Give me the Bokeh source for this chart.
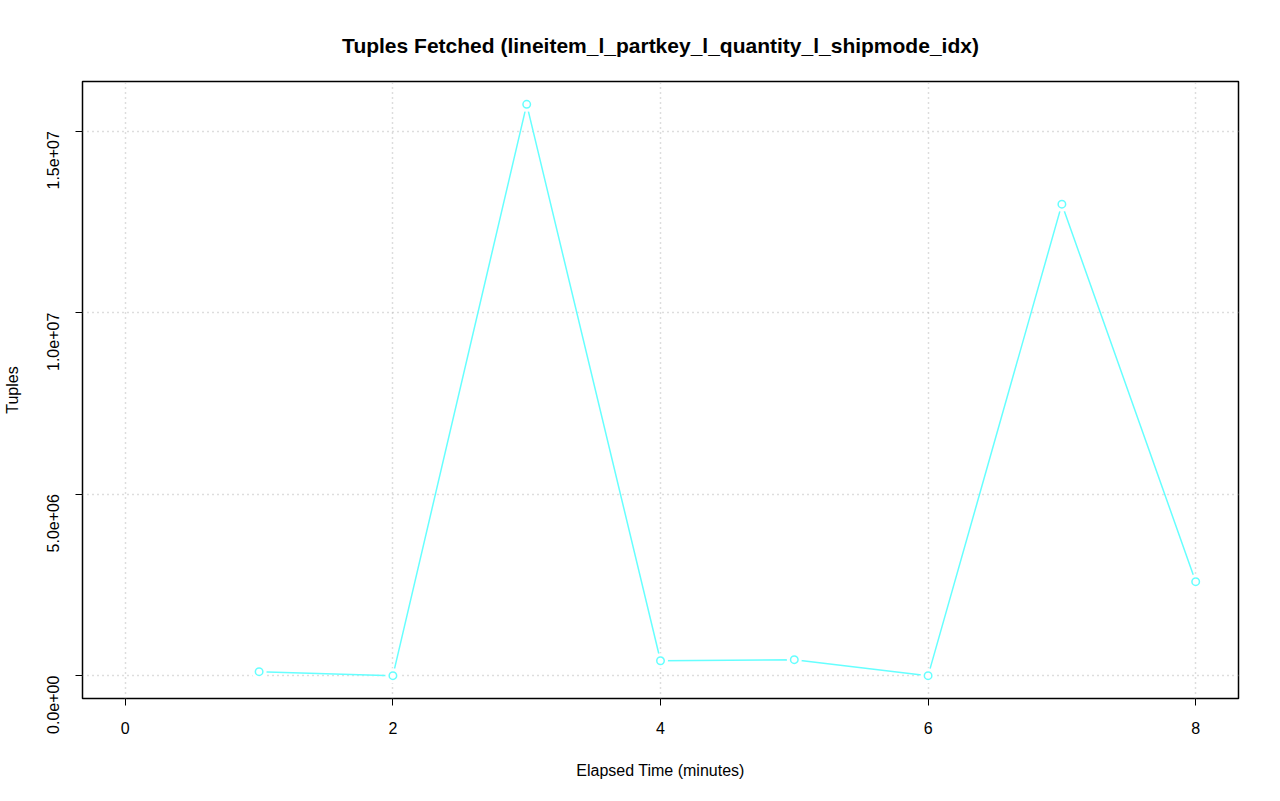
from bokeh.plotting import figure
from bokeh.models import Range1d, FixedTicker, ColumnDataSource
from bokeh.embed import file_html
from bokeh.resources import INLINE
import math

# data
minutes = [1, 2, 3, 4, 5, 6, 7, 8]
tuples = [110000, 0, 15740000, 410000, 440000, 0, 12990000, 2590000]
x_ticks = [0, 2, 4, 6, 8]
y_ticks = [0, 5e6, 1e7, 1.5e7]
y_tick_labels = ["0.0e+00", "5.0e+06", "1.0e+07", "1.5e+07"]
title_text = "Tuples Fetched (lineitem_l_partkey_l_quantity_l_shipmode_idx)"
x_label = "Elapsed Time (minutes)"
y_label = "Tuples"

FONT = "Liberation Sans"
LINE_COLOR = "#66FFFF"

ymax = max(tuples)
ypad = 0.04 * ymax
p = figure(width=1280, height=801, output_backend="svg", toolbar_location=None,
           x_range=Range1d(-0.32, 8.32), y_range=Range1d(-ypad, ymax + ypad),
           min_border_left=81, min_border_right=42, min_border_top=81, min_border_bottom=103,
           background_fill_color="white", border_fill_color="white")
p.outline_line_color = "black"
p.outline_line_width = 1.5

p.title.text = title_text
p.title.align = "center"
p.title.text_font = FONT
p.title.text_font_size = "21px"
p.title.text_font_style = "bold"
p.title.text_color = "black"
p.title.standoff = 49

for ax in (p.xaxis[0], p.yaxis[0]):
    ax.axis_line_color = None
    ax.major_tick_in = 0
    ax.major_tick_out = 7
    ax.major_tick_line_color = "black"
    ax.minor_tick_line_color = None
    ax.major_label_text_font = FONT
    ax.major_label_text_font_size = "16px"
    ax.major_label_text_color = "black"
    ax.axis_label_text_font = FONT
    ax.axis_label_text_font_size = "16px"
    ax.axis_label_text_font_style = "normal"
    ax.axis_label_text_color = "black"

p.xaxis[0].ticker = FixedTicker(ticks=x_ticks)
p.xaxis[0].major_label_standoff = 16
p.xaxis[0].axis_label = x_label
p.xaxis[0].axis_label_standoff = 25
p.yaxis[0].ticker = FixedTicker(ticks=y_ticks)
p.yaxis[0].major_label_overrides = {t: l for t, l in zip(y_ticks, y_tick_labels)}
p.yaxis[0].major_label_orientation = math.pi / 2
p.yaxis[0].major_label_standoff = 22
p.yaxis[0].axis_label = y_label
p.yaxis[0].axis_label_standoff = 18

for g in (p.xgrid[0], p.ygrid[0]):
    g.grid_line_color = "#BBBBBB"
    g.grid_line_dash = "1 4"
    g.grid_line_width = 1.5
p.xgrid[0].ticker = FixedTicker(ticks=x_ticks)
p.ygrid[0].ticker = FixedTicker(ticks=y_ticks)

src = ColumnDataSource(dict(x=minutes, y=tuples))
p.line("x", "y", source=src, line_color=LINE_COLOR, line_width=1.5)
p.scatter("x", "y", source=src, size=15, fill_color="white", line_color=None)
p.scatter("x", "y", source=src, size=7.5, fill_color="white", line_color=LINE_COLOR, line_width=1.5)

open("out.html", "w").write(file_html(p, INLINE))
